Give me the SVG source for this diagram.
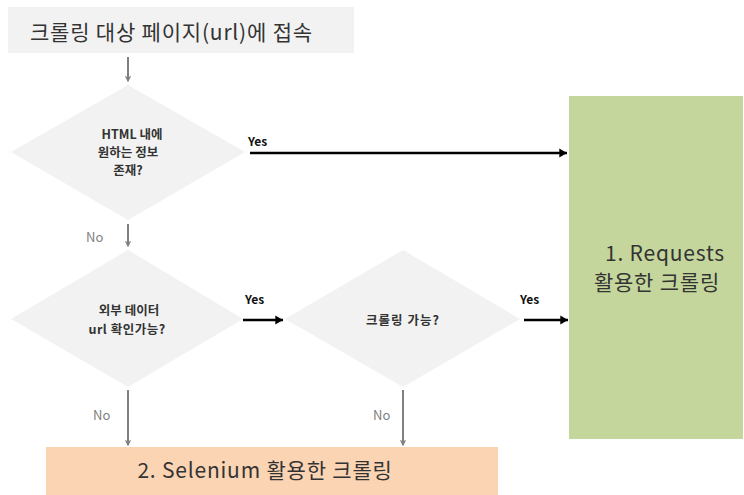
<svg xmlns="http://www.w3.org/2000/svg" width="744" height="495" viewBox="0 0 744 495">
  <style>
    .box-gray { fill: #f2f2f2; }
    .dia { fill: #f2f2f2; }
    .green { fill: #c4d69c; }
    .orange { fill: #fbd4b4; }
    .big { font-family: "Noto Sans CJK KR", "Noto Sans", sans-serif; font-size: 21px; letter-spacing: 0.8px; fill: #333333; }
    .q { font-family: "Noto Sans CJK KR", "Noto Sans", sans-serif; font-size: 12.5px; font-weight: bold; fill: #333333; text-anchor: middle; }
    .yes { font-family: "Noto Sans CJK KR", "Noto Sans", sans-serif; font-size: 12px; font-weight: bold; fill: #111111; }
    .no { font-family: "Noto Sans CJK KR", "Noto Sans", sans-serif; font-size: 13px; fill: #7f7f7f; }
    .line-gray { stroke: #808080; stroke-width: 2; fill: none; }
    .line-black { stroke: #000000; stroke-width: 2.5; fill: none; }
  </style>
  <defs>
    <marker id="arrGray" viewBox="0 0 10 10" refX="9" refY="5" markerWidth="6" markerHeight="6" orient="auto" markerUnits="userSpaceOnUse">
      <path d="M1,1 L9,5 L1,9" fill="none" stroke="#808080" stroke-width="2"/>
    </marker>
    <marker id="arrBlack" viewBox="0 0 10 10" refX="9" refY="5" markerWidth="11" markerHeight="11" orient="auto" markerUnits="userSpaceOnUse">
      <path d="M2,1 L9,5 L2,9 Z" fill="#000000"/>
    </marker>
  </defs>

  <rect width="744" height="495" fill="#ffffff"/>

  <g id="start">
    <rect class="box-gray" x="8" y="7" width="346" height="46"/>
    <text class="big" x="30" y="40">크롤링 대상 페이지(url)에 접속</text>
  </g>

  <g id="q-html">
    <polygon class="dia" points="128,85 245,152 128,220 11,152"/>
    <text class="q" x="132" y="139">HTML 내에</text>
    <text class="q" x="128" y="157">원하는 정보</text>
    <text class="q" x="128" y="175">존재?</text>
  </g>

  <g id="q-url">
    <polygon class="dia" points="128,250 243,319 128,387 11,319"/>
    <text class="q" x="129" y="315">외부 데이터</text>
    <text class="q" x="127" y="334" letter-spacing="0.5">url 확인가능?</text>
  </g>

  <g id="q-crawl">
    <polygon class="dia" points="403,250 520,319 403,387 285,319"/>
    <text class="q" x="403" y="325" letter-spacing="1">크롤링 가능?</text>
  </g>

  <g id="requests">
    <rect class="green" x="569" y="96" width="174" height="343"/>
    <text class="big" x="665" y="261" text-anchor="middle" font-size="20" letter-spacing="-0.8">1. Requests</text>
    <text class="big" x="657" y="290" text-anchor="middle" letter-spacing="2">활용한 크롤링</text>
  </g>

  <g id="selenium">
    <rect class="orange" x="46" y="447" width="452" height="48"/>
    <text class="big" x="265" y="478" text-anchor="middle" letter-spacing="0.3">2. Selenium 활용한 크롤링</text>
  </g>

  <g id="connectors">
    <line class="line-gray" x1="128" y1="57" x2="128" y2="81" marker-end="url(#arrGray)"/>
    <line class="line-black" x1="250" y1="153" x2="567" y2="153" marker-end="url(#arrBlack)"/>
    <text class="yes" x="248" y="146">Yes</text>
    <line class="line-gray" x1="128" y1="224" x2="128" y2="246" marker-end="url(#arrGray)"/>
    <text class="no" x="86" y="242">No</text>
    <line class="line-black" x1="243" y1="320" x2="283" y2="320" marker-end="url(#arrBlack)"/>
    <text class="yes" x="245" y="304">Yes</text>
    <line class="line-black" x1="524" y1="320" x2="568" y2="320" marker-end="url(#arrBlack)"/>
    <text class="yes" x="520" y="304">Yes</text>
    <line class="line-gray" x1="128" y1="390" x2="128" y2="445" marker-end="url(#arrGray)"/>
    <text class="no" x="93" y="420">No</text>
    <line class="line-gray" x1="403" y1="390" x2="403" y2="445" marker-end="url(#arrGray)"/>
    <text class="no" x="373" y="420">No</text>
  </g>
</svg>
